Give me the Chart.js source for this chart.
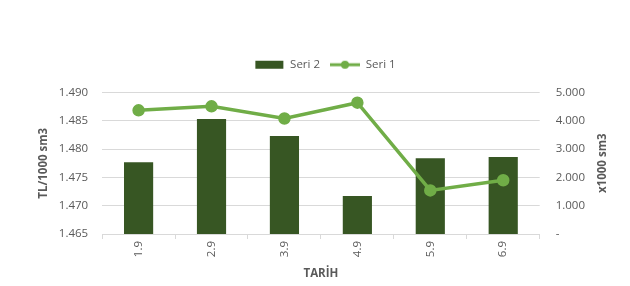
<!DOCTYPE html>
<html>
<head>
<meta charset="utf-8">
<script src="https://cdn.jsdelivr.net/npm/chart.js@4"></script>
<style>
  html, body { margin: 0; padding: 0; background: #fff; }
  #wrap { width: 630px; height: 286px; }
</style>
</head>
<body>
<div id="wrap"><canvas id="chart"></canvas></div>
<script>
const categories = ['1.9', '2.9', '3.9', '4.9', '5.9', '6.9']
const seri2 = [1.4777, 1.4853, 1.4823, 1.4717, 1.4784, 1.4786]
const seri1 = [4370, 4510, 4080, 4640, 1540, 1900]
const leftTicks = [1.465, 1.470, 1.475, 1.480, 1.485, 1.490]
const rightTicks = [0, 1000, 2000, 3000, 4000, 5000]

const textColor = '#595959'
const barColor = '#375623'
const lineColor = '#70AD47'
const gridColor = '#d9d9d9'
const font = '"Open Sans", sans-serif'
const fontSize = 11.5

function legendIcon(kind) {
	const c = document.createElement('canvas')
	c.width = 30
	c.height = 10
	const g = c.getContext('2d')
	if (kind === 'bar') {
		g.fillStyle = barColor
		g.fillRect(1, 1, 28, 8)
	} else {
		g.strokeStyle = lineColor
		g.lineWidth = 3
		g.beginPath()
		g.moveTo(0, 5)
		g.lineTo(30, 5)
		g.stroke()
		g.fillStyle = lineColor
		g.beginPath()
		g.arc(15, 5, 4, 0, Math.PI * 2)
		g.fill()
	}
	return c
}

// extra room under the legend, and nudge it a little to the right
const legendMargin = {
	id: 'legendMargin',
	beforeInit(chart) {
		const fit = chart.legend.fit
		chart.legend.fit = function () {
			fit.bind(chart.legend)()
			this.height += 12
		}
	},
	afterLayout(chart) {
		chart.legend.left += 6
		chart.legend.right += 6
	},
}

// right title reads bottom-to-top like the left one
const rightTitle = {
	id: 'rightTitle',
	afterDraw(chart) {
		const ctx = chart.ctx
		const y = chart.scales.y1
		ctx.save()
		ctx.translate(603, (y.top + y.bottom) / 2)
		ctx.rotate(-Math.PI / 2)
		ctx.font = 'bold ' + fontSize + 'px ' + font
		ctx.fillStyle = textColor
		ctx.textAlign = 'center'
		ctx.textBaseline = 'middle'
		ctx.fillText('x1000 sm3', 0, 0)
		ctx.restore()
	},
}

const ctx = document.getElementById('chart').getContext('2d')
new Chart(ctx, {
	type: 'bar',
	data: {
		labels: categories,
		datasets: [
			{
				label: 'Seri 2',
				data: seri2,
				backgroundColor: barColor,
				yAxisID: 'y',
				order: 1,
				barPercentage: 0.4,
				categoryPercentage: 1,
			},
			{
				type: 'line',
				label: 'Seri 1',
				data: seri1,
				borderColor: lineColor,
				backgroundColor: lineColor,
				borderWidth: 3.5,
				pointRadius: 4.5,
				pointBackgroundColor: lineColor,
				pointBorderColor: lineColor,
				yAxisID: 'y1',
				order: 0,
			},
		],
	},
	options: {
		responsive: true,
		maintainAspectRatio: false,
		animation: false,
		layout: { padding: { top: 49, left: 37, right: 29, bottom: 5 } },
		plugins: {
			tooltip: { enabled: false },
			legend: {
				position: 'top',
				labels: {
					usePointStyle: true,
					pointStyleWidth: 30,
					color: textColor,
					font: { family: font, size: fontSize },
					padding: 10,
					sort: (a, b) => a.datasetIndex - b.datasetIndex,
					generateLabels: (chart) => chart.data.datasets.map((ds, i) => ({
						text: ds.label,
						fontColor: textColor,
						pointStyle: legendIcon(i === 0 ? 'bar' : 'line'),
						datasetIndex: i,
						hidden: false,
						lineWidth: 0,
					})),
				},
			},
		},
		scales: {
			x: {
				offset: true,
				grid: {
					offset: true,
					drawOnChartArea: false,
					drawTicks: true,
					tickLength: 5,
					color: gridColor,
				},
				border: { color: gridColor },
				ticks: {
					color: textColor,
					font: { family: font, size: fontSize },
					minRotation: 90,
					maxRotation: 90,
					padding: 2,
				},
				title: {
					display: true,
					text: 'TARİH',
					color: textColor,
					font: { family: font, size: fontSize, weight: 'bold' },
					padding: { top: 8, bottom: 0 },
				},
			},
			y: {
				position: 'left',
				min: 1.465,
				max: 1.490,
				afterBuildTicks: (axis) => { axis.ticks = leftTicks.map((v) => ({ value: v })) },
				grid: { color: gridColor, drawTicks: false },
				border: { display: false },
				ticks: {
					color: textColor,
					font: { family: font, size: fontSize },
					padding: 14,
					callback: (v) => v.toFixed(3),
				},
				title: {
					display: true,
					text: 'TL/1000 sm3',
					color: textColor,
					font: { family: font, size: fontSize, weight: 'bold' },
					padding: { top: 0, bottom: -6 },
				},
			},
			y1: {
				position: 'right',
				min: 0,
				max: 5000,
				afterBuildTicks: (axis) => { axis.ticks = rightTicks.map((v) => ({ value: v })) },
				grid: { drawOnChartArea: false, drawTicks: false },
				border: { display: false },
				ticks: {
					color: textColor,
					font: { family: font, size: fontSize },
					padding: 16,
					callback: (v) => v === 0 ? '-' : (v / 1000).toFixed(3),
				},
			},
		},
	},
	plugins: [legendMargin, rightTitle],
})
</script>
</body>
</html>
